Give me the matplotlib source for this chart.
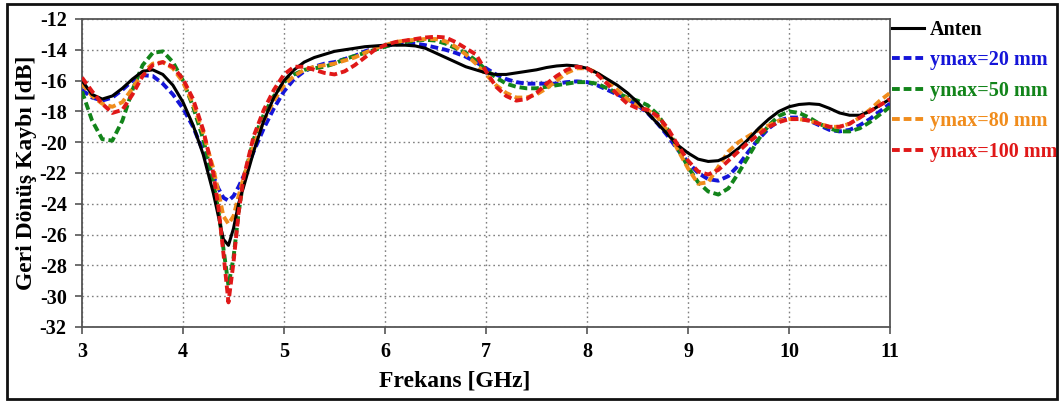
import numpy as np
import matplotlib
matplotlib.use("Agg")
import matplotlib.pyplot as plt
from matplotlib.patches import Rectangle

# Frequency grid [GHz] (denser around the 4.4 GHz resonance)
freq = [3.0, 3.1, 3.2, 3.3, 3.4, 3.5, 3.6, 3.7, 3.8, 3.9, 4.0, 4.1, 4.2, 4.3,
        4.35, 4.4, 4.45, 4.5, 4.55, 4.6,
        4.7, 4.8, 4.9, 5.0, 5.1, 5.2, 5.3, 5.4, 5.5, 5.6, 5.7, 5.8, 5.9,
        6.0, 6.1, 6.2, 6.3, 6.4, 6.5, 6.6, 6.7, 6.8, 6.9,
        7.0, 7.1, 7.2, 7.3, 7.4, 7.5, 7.6, 7.7, 7.8, 7.9,
        8.0, 8.1, 8.2, 8.3, 8.4, 8.5, 8.6, 8.7, 8.8, 8.9,
        9.0, 9.1, 9.2, 9.3, 9.4, 9.5, 9.6, 9.7, 9.8, 9.9,
        10.0, 10.1, 10.2, 10.3, 10.4, 10.5, 10.6, 10.7, 10.8, 10.9, 11.0]

# Return loss [dB]
anten = [-16.0, -16.9, -17.2, -17.0, -16.5, -15.9, -15.4, -15.3, -15.6, -16.3, -17.4, -18.9, -20.8, -23.3,
         -24.8, -26.3, -26.7, -25.6, -24.0, -22.9,
         -20.6, -18.6, -17.1, -16.0, -15.3, -14.8, -14.5, -14.3, -14.1, -14.0, -13.9, -13.8, -13.75,
         -13.7, -13.7, -13.7, -13.75, -13.9, -14.2, -14.5, -14.8, -15.1, -15.3,
         -15.5, -15.6, -15.6, -15.5, -15.4, -15.3, -15.15, -15.05, -15.0, -15.05,
         -15.2, -15.5, -15.9, -16.3, -16.8, -17.4, -18.1, -18.8, -19.5, -20.2,
         -20.7, -21.1, -21.25, -21.2, -20.9, -20.4, -19.8, -19.1, -18.5, -18.0,
         -17.7, -17.55, -17.5, -17.55, -17.8, -18.1, -18.25, -18.25, -18.0, -17.6, -17.2]

ymax20 = [-16.6, -17.1, -17.3, -17.1, -16.6, -16.0, -15.65, -15.7, -16.2, -16.9, -17.8, -19.0, -20.6, -22.2,
          -23.0, -23.6, -23.8, -23.5, -22.9, -22.2,
          -20.6, -19.1, -17.8, -16.7, -15.9, -15.4, -15.1, -14.9, -14.8, -14.6, -14.4, -14.1, -13.9,
          -13.75, -13.65, -13.6, -13.6, -13.7, -13.85, -14.0, -14.2, -14.45, -14.8,
          -15.2, -15.6, -15.9, -16.1, -16.2, -16.2, -16.2, -16.2, -16.1, -16.05,
          -16.1, -16.3, -16.6, -16.9, -17.2, -17.6, -18.1, -18.8, -19.6, -20.5,
          -21.3, -22.0, -22.4, -22.5, -22.2, -21.5, -20.6, -19.8, -19.1, -18.6,
          -18.4, -18.4, -18.6, -18.9, -19.2, -19.3, -19.2, -18.9, -18.5, -18.0, -17.5]

ymax50 = [-16.7, -18.6, -19.8, -19.9, -18.6, -16.6, -15.0, -14.2, -14.1, -14.8, -16.0, -17.7, -19.8, -22.6,
          -24.4, -26.9, -29.3, -27.5, -24.6, -22.4,
          -19.8, -18.2, -17.0, -16.1, -15.6, -15.3, -15.2, -15.1, -14.9, -14.6, -14.4, -14.2, -14.0,
          -13.8, -13.6, -13.5, -13.4, -13.35, -13.4, -13.6, -13.9, -14.2, -14.7,
          -15.3, -15.8, -16.2, -16.4, -16.5, -16.5, -16.4, -16.3, -16.2, -16.1,
          -16.1, -16.2, -16.5, -16.8, -17.1, -17.3, -17.6, -18.2, -19.2, -20.4,
          -21.6, -22.6, -23.2, -23.4, -23.0, -22.0, -20.9, -19.8, -18.9, -18.3,
          -18.0, -18.1, -18.4, -18.8, -19.1, -19.3, -19.3, -19.1, -18.7, -18.2, -17.7]

ymax80 = [-16.2, -17.0, -17.5, -17.7, -17.4, -16.5, -15.5, -14.9, -14.8, -15.2, -16.1, -17.5, -19.4, -21.7,
          -23.2, -24.8, -25.3, -24.8, -23.5, -22.3,
          -20.2, -18.6, -17.3, -16.3, -15.7, -15.3, -15.1, -15.0, -14.9, -14.7, -14.5, -14.2, -13.9,
          -13.7, -13.5, -13.4, -13.35, -13.3, -13.3, -13.45, -13.8, -14.3, -14.9,
          -15.6, -16.3, -16.8, -17.1, -17.1, -16.9, -16.5, -16.0, -15.5, -15.2,
          -15.2, -15.5, -16.0, -16.6, -17.2, -17.6, -17.9, -18.4, -19.3, -20.5,
          -21.7, -22.7, -22.6, -21.6, -20.6, -20.0, -19.6, -19.2, -18.9, -18.6,
          -18.5, -18.5, -18.6, -18.8, -19.0, -19.0, -18.8, -18.4, -17.9, -17.3, -16.8]

ymax100 = [-15.8, -16.7, -17.5, -18.1, -17.9, -16.9, -15.7, -15.0, -14.8, -15.1, -15.9, -17.2, -19.2, -22.0,
           -24.2, -27.2, -30.4, -27.8, -24.6, -22.3,
           -19.6, -17.9, -16.6, -15.6, -15.1, -15.1, -15.3, -15.5, -15.6, -15.4, -15.0, -14.5, -14.0,
           -13.7, -13.5, -13.4, -13.3, -13.2, -13.15, -13.2, -13.5, -13.9, -14.3,
           -15.4, -16.4, -17.0, -17.3, -17.2, -16.8, -16.2, -15.7, -15.3, -15.1,
           -15.2, -15.6, -16.2, -16.9, -17.5, -17.8, -17.9, -18.3, -19.1, -20.2,
           -21.2, -21.9, -22.1, -21.8, -21.2, -20.6, -20.0, -19.5, -19.0, -18.7,
           -18.5, -18.5, -18.6, -18.8, -19.0, -19.0, -18.8, -18.4, -18.0, -17.6, -17.2]

labels = ["Anten", "ymax=20 mm", "ymax=50 mm", "ymax=80 mm", "ymax=100 mm"]
colors = ["#000000", "#1515d8", "#12841a", "#f08c1c", "#e01818"]

xticks = [3, 4, 5, 6, 7, 8, 9, 10, 11]
yticks = [-12, -14, -16, -18, -20, -22, -24, -26, -28, -30, -32]

plt.rcParams["font.family"] = ["Liberation Serif", "DejaVu Serif"]
plt.rcParams["font.weight"] = "bold"

fig = plt.figure(figsize=(10.64, 4.01), dpi=100)
W, H = 1064, 401
ax = fig.add_axes([82 / W, 1 - 327 / H, (890 - 82) / W, (327 - 19) / H])

series = [anten, ymax20, ymax50, ymax80, ymax100]
for i, (vals, lab, col) in enumerate(zip(series, labels, colors)):
    if i == 0:
        ax.plot(freq, vals, color=col, lw=2.2, label=lab, zorder=6)
    else:
        ax.plot(freq, vals, color=col, lw=2.8, dashes=(2.0, 1.0),
                label=lab, zorder=2 + i)

ax.set_xlim(3, 11)
ax.set_ylim(-32, -12)
ax.set_xticks(xticks)
ax.set_yticks(yticks)
ax.set_xticklabels([str(t) for t in xticks])
ax.set_yticklabels([str(t) for t in yticks])
ax.tick_params(axis="both", labelsize=14.5, length=5, width=1.2,
               color="#555555", direction="out", pad=6)
for lab in ax.get_xticklabels() + ax.get_yticklabels():
    lab.set_fontweight("bold")

ax.grid(True, linestyle=(0, (1.2, 2.2)), color="#808080", lw=1.0)
for s in ax.spines.values():
    s.set_color("#555555")
    s.set_linewidth(1.3)

ax.set_xlabel("Frekans [GHz]", fontsize=17, fontweight="bold")
ax.xaxis.set_label_coords((455 - 82) / (890 - 82), -(381 - 327) / (327 - 19),
                          transform=ax.transAxes)
ax.xaxis.label.set_verticalalignment("center")
ax.set_ylabel("Geri Dönüş Kaybı [dB]", fontsize=17, fontweight="bold")
ax.yaxis.set_label_coords(-(82 - 27) / (890 - 82), (327 - 173) / (327 - 19),
                          transform=ax.transAxes)
ax.yaxis.label.set_verticalalignment("center")

leg = ax.legend(loc="upper left", bbox_to_anchor=(892 / W, 1 - 20 / H),
                bbox_transform=fig.transFigure, frameon=False,
                prop={"size": 14.5, "weight": "bold"}, handlelength=1.6,
                handletextpad=0.3, labelspacing=0.52, borderaxespad=0,
                borderpad=0.0)
for txt, col in zip(leg.get_texts(), colors):
    txt.set_color(col)

# Figure border
fig.patches.append(Rectangle((7 / W, 2 / H), (1057 - 7) / W, (398 - 3) / H,
                             transform=fig.transFigure, fill=False,
                             edgecolor="#111111", lw=2.0))

fig.savefig("out.png", dpi=100)
